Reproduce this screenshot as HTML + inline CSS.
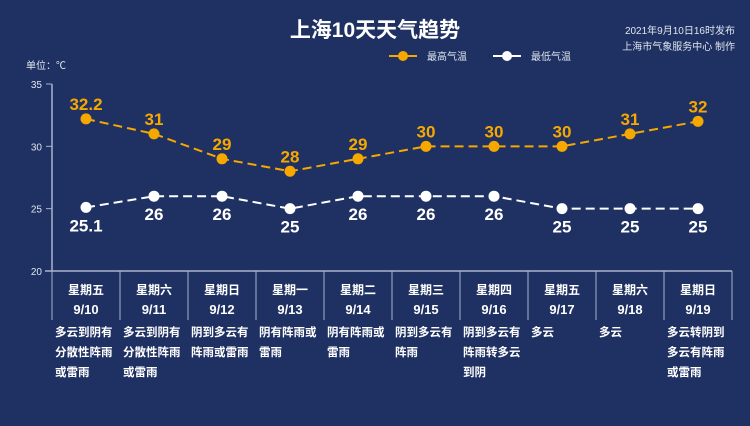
<!DOCTYPE html>
<html><head><meta charset="utf-8"><style>
body{margin:0;width:750px;height:426px;background:#1f3162;overflow:hidden;font-family:"Liberation Sans","Noto Sans CJK SC",sans-serif}
</style></head><body>
<svg width="750" height="426" style="position:absolute;left:0;top:0" font-family="Liberation Sans, Noto Sans CJK SC, sans-serif">
<rect width="750" height="426" fill="#1f3162"/>
<text x="375" y="37" text-anchor="middle" font-size="21" font-weight="bold" fill="#fff">上海10天天气趋势</text>
<text x="735" y="34" text-anchor="end" font-size="10" fill="#dfe4ef">2021年9月10日16时发布</text>
<text x="735" y="50" text-anchor="end" font-size="10" fill="#dfe4ef">上海市气象服务中心 制作</text>
<g><line x1="389" y1="56" x2="417" y2="56" stroke="#f6a800" stroke-width="2"/><circle cx="403" cy="56" r="5" fill="#f6a800"/><text x="427" y="60" font-size="10" fill="#dfe4ef">最高气温</text></g>
<g><line x1="493" y1="56" x2="521" y2="56" stroke="#fff" stroke-width="2"/><circle cx="507" cy="56" r="5" fill="#fff"/><text x="531" y="60" font-size="10" fill="#dfe4ef">最低气温</text></g>
<text x="26" y="69" font-size="10" fill="#dfe4ef">单位：℃</text>
<g id="axes"></g>
<g id="marks"></g>
</svg>
<script>
const days=["星期五","星期六","星期日","星期一","星期二","星期三","星期四","星期五","星期六","星期日"];
const dates=["9/10","9/11","9/12","9/13","9/14","9/15","9/16","9/17","9/18","9/19"];
const highs=[32.2,31,29,28,29,30,30,30,31,32];
const lows=[25.1,26,26,25,26,26,26,25,25,25];
const yTicks=[20,25,30,35];
const descs=[["多云到阴有","分散性阵雨","或雷雨"],["多云到阴有","分散性阵雨","或雷雨"],["阴到多云有","阵雨或雷雨"],["阴有阵雨或","雷雨"],["阴有阵雨或","雷雨"],["阴到多云有","阵雨"],["阴到多云有","阵雨转多云","到阴"],["多云"],["多云"],["多云转阴到","多云有阵雨","或雷雨"]];
const NS="http://www.w3.org/2000/svg";
const x0=52,cw=68,yB=271,yT=84;
const X=i=>x0+cw*(i+0.5);
const Y=v=>yB-(v-20)/15*(yB-yT);
const ax=document.getElementById('axes'),mk=document.getElementById('marks');
function el(p,t,a,txt){const e=document.createElementNS(NS,t);for(const k in a)e.setAttribute(k,a[k]);if(txt!=null)e.textContent=txt;p.appendChild(e);return e;}
let e=el(ax,'line',{x1:x0,y1:yT,x2:x0,y2:yB,stroke:'#aab4cc','stroke-width':1.5});


e=el(ax,'line',{x1:45,y1:yB,x2:x0+cw*10,y2:yB,stroke:'#aab4cc','stroke-width':1.5});


yTicks.forEach(t=>{el(ax,'line',{x1:46,y1:Y(t),x2:x0,y2:Y(t),stroke:'#aab4cc'});
e=el(ax,'text',{x:42,y:Y(t)+4,'text-anchor':'end','font-size':10,fill:'#dfe4ef'},t);

});
for(let i=0;i<=10;i++)el(ax,'line',{x1:x0+cw*i,y1:yB,x2:x0+cw*i,y2:320,stroke:'#aab4cc','stroke-width':1});
days.forEach((d,i)=>{
e=el(ax,'text',{x:X(i),y:294,'text-anchor':'middle','font-size':12,'font-weight':'bold',fill:'#fff'},d);


e=el(ax,'text',{x:X(i),y:314,'text-anchor':'middle','font-size':13,'font-weight':'bold',fill:'#fff'},dates[i]);


descs[i].forEach((s,j)=>{e=el(ax,'text',{x:x0+cw*i+3,y:336+j*20,'font-size':11.5,'font-weight':'bold',fill:'#fff'},s);

});
});
function series(vals,color,name,above){
const pts=vals.map((v,i)=>X(i)+','+Y(v)).join(' ');
e=el(mk,'polyline',{points:pts,fill:'none',stroke:color,'stroke-width':2,'stroke-dasharray':'9,5'});


vals.forEach((v,i)=>{e=el(mk,'circle',{cx:X(i),cy:Y(v),r:5.5,fill:color});


e=el(mk,'text',{x:X(i),y:above?Y(v)-9:Y(v)+24,'text-anchor':'middle','font-size':17,'font-weight':'bold',fill:color},v);

});
}
series(highs,'#f6a800','high-temp',true);
series(lows,'#ffffff','low-temp',false);
</script>
</body></html>
